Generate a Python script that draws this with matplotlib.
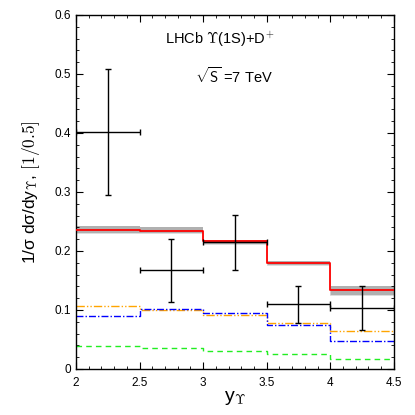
import numpy as np
import matplotlib
matplotlib.use('Agg')
import matplotlib.pyplot as plt
from matplotlib.ticker import MultipleLocator, FuncFormatter

plt.rcParams['font.family'] = ['Liberation Sans', 'DejaVu Sans']
plt.rcParams['mathtext.fontset'] = 'cm'

# bin edges in rapidity
edges = [2.0, 2.5, 3.0, 3.5, 4.0, 4.5]

# theory curves (one value per bin)
total = [0.236, 0.234, 0.216, 0.179, 0.1335]
total_lo = [0.231, 0.230, 0.212, 0.176, 0.126]
total_hi = [0.242, 0.240, 0.219, 0.183, 0.141]
orange = [0.107, 0.100, 0.091, 0.078, 0.064]
blue = [0.0896, 0.101, 0.094, 0.074, 0.048]
green = [0.039, 0.035, 0.030, 0.025, 0.0175]

# LHCb data
data_x = [2.25, 2.75, 3.25, 3.75, 4.25]
data_y = [0.401, 0.167, 0.215, 0.110, 0.104]
data_lo = [0.295, 0.113, 0.168, 0.078, 0.066]
data_hi = [0.509, 0.221, 0.261, 0.141, 0.141]


def step(vals):
    return np.append(vals, vals[-1])


fig = plt.figure(figsize=(4.15, 4.15), dpi=100)
ax = fig.add_axes([0.183, 0.111, 0.766, 0.853])

# uncertainty band
ax.fill_between(edges, step(total_lo), step(total_hi), step='post',
                color='#b0b0b0', lw=0, zorder=1)
ax.step(edges, step(total_lo), where='post', color='#d8d8d8', lw=0.6, zorder=1)

ax.step(edges, step(total), where='post', color='red', lw=1.3, zorder=3)
ax.step(edges, step(orange), where='post', color='orange', lw=1.0,
        dashes=[6, 1.5, 1, 1.5, 1, 1.5], zorder=2)
ax.step(edges, step(blue), where='post', color='blue', lw=1.0,
        dashes=[5, 1.5, 1, 1.5], zorder=2)
ax.step(edges, step(green), where='post', color='#22ee22', lw=1.0,
        dashes=[4, 3], zorder=2)

yerr = [np.array(data_y) - np.array(data_lo), np.array(data_hi) - np.array(data_y)]
ax.errorbar(data_x, data_y, xerr=0.25, yerr=yerr, fmt='none', ecolor='black',
            elinewidth=1.0, capsize=2, capthick=1.0, zorder=4)

ax.set_xlim(2, 4.5)
ax.set_ylim(0, 0.6)
ax.xaxis.set_major_locator(MultipleLocator(0.5))
ax.xaxis.set_minor_locator(MultipleLocator(0.1))
ax.yaxis.set_major_locator(MultipleLocator(0.1))
ax.yaxis.set_minor_locator(MultipleLocator(0.02))
ax.xaxis.set_major_formatter(FuncFormatter(lambda v, p: '%g' % v))
ax.yaxis.set_major_formatter(FuncFormatter(lambda v, p: '%g' % round(v, 2)))
ax.tick_params(which='both', direction='in', top=True, right=True, labelsize=8.5)
ax.tick_params(which='major', length=5, width=0.8)
ax.tick_params(which='minor', length=2.5, width=0.6)
ax.tick_params(axis='x', pad=6)
for s in ax.spines.values():
    s.set_linewidth(1.0)

ax.set_xlabel(r'y$_\Upsilon$', fontsize=14, labelpad=0)
ax.set_ylabel(r'1/σ dσ/dy$_\Upsilon$, $[1/0.5]$', fontsize=12.5, labelpad=9)

ax.text(3.13, 0.553, r'LHCb $\Upsilon$(1S)+D$^{\mathsf{+}}$', ha='center', fontsize=10.5)
ax.text(3.24, 0.484, r'$\sqrt{\mathsf{S}}$ =7 TeV', ha='center', fontsize=10.5)

fig.savefig('out.png', dpi=100)
